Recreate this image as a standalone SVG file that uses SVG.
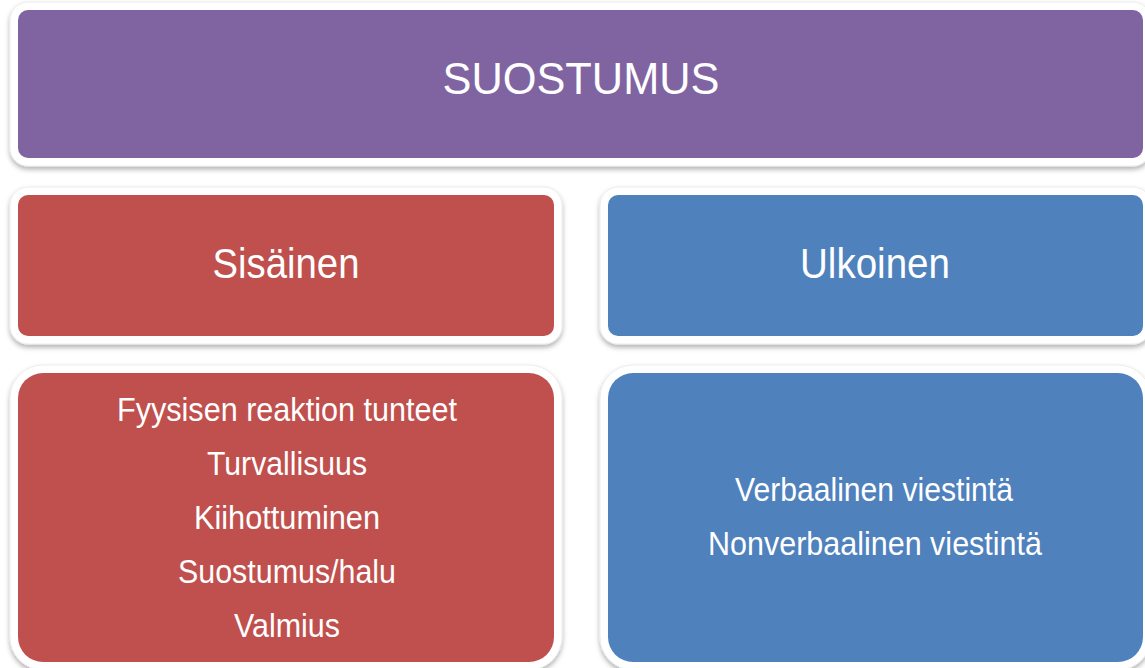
<svg xmlns="http://www.w3.org/2000/svg" width="1145" height="668" viewBox="0 0 1145 668">
  <defs>
    <filter id="shadow" x="-5%" y="-5%" width="110%" height="115%">
      <feDropShadow dx="0" dy="3" stdDeviation="2.5" flood-color="#000" flood-opacity="0.3"/>
    </filter>
    <style>
      .frame { fill: #ffffff; stroke: #ececec; stroke-width: 1; filter: url(#shadow); }
      .purple { fill: #8064A2; }
      .red { fill: #C0504D; }
      .blue { fill: #4F81BD; }
      text { font-family: "Liberation Sans", Arial, sans-serif; fill: #ffffff; text-anchor: middle; }
      .title { font-size: 44px; }
      .head { font-size: 42px; }
      .item { font-size: 33px; }
    </style>
  </defs>
  <rect width="1145" height="668" fill="#ffffff"/>

  <g id="suostumus">
    <rect class="frame" x="10" y="2" width="1141" height="164" rx="18"/>
    <rect class="purple" x="18" y="10" width="1125" height="148" rx="10"/>
    <text class="title" x="581" y="94" textLength="277" lengthAdjust="spacingAndGlyphs">SUOSTUMUS</text>
  </g>

  <g id="sisainen">
    <rect class="frame" x="10" y="187" width="552" height="157" rx="18"/>
    <rect class="red" x="18" y="195" width="536" height="141" rx="10"/>
    <text class="head" x="286" y="278" textLength="147" lengthAdjust="spacingAndGlyphs">Sisäinen</text>
  </g>

  <g id="ulkoinen">
    <rect class="frame" x="600" y="187" width="551" height="157" rx="18"/>
    <rect class="blue" x="608" y="195" width="535" height="141" rx="10"/>
    <text class="head" x="875" y="278" textLength="150" lengthAdjust="spacingAndGlyphs">Ulkoinen</text>
  </g>

  <g id="sisainen-items">
    <rect class="frame" x="10" y="365" width="552" height="305" rx="33"/>
    <rect class="red" x="18" y="373" width="536" height="289" rx="25"/>
    <text class="item" x="287" y="421" textLength="340" lengthAdjust="spacingAndGlyphs">Fyysisen reaktion tunteet</text>
    <text class="item" x="287" y="475" textLength="160" lengthAdjust="spacingAndGlyphs">Turvallisuus</text>
    <text class="item" x="287" y="529" textLength="186" lengthAdjust="spacingAndGlyphs">Kiihottuminen</text>
    <text class="item" x="287" y="583" textLength="218" lengthAdjust="spacingAndGlyphs">Suostumus/halu</text>
    <text class="item" x="287" y="637" textLength="106" lengthAdjust="spacingAndGlyphs">Valmius</text>
  </g>

  <g id="ulkoinen-items">
    <rect class="frame" x="600" y="365" width="551" height="305" rx="33"/>
    <rect class="blue" x="608" y="373" width="535" height="289" rx="25"/>
    <text class="item" x="874" y="501" textLength="278" lengthAdjust="spacingAndGlyphs">Verbaalinen viestintä</text>
    <text class="item" x="875" y="555" textLength="334" lengthAdjust="spacingAndGlyphs">Nonverbaalinen viestintä</text>
  </g>

  <g id="connectors"/>
</svg>
